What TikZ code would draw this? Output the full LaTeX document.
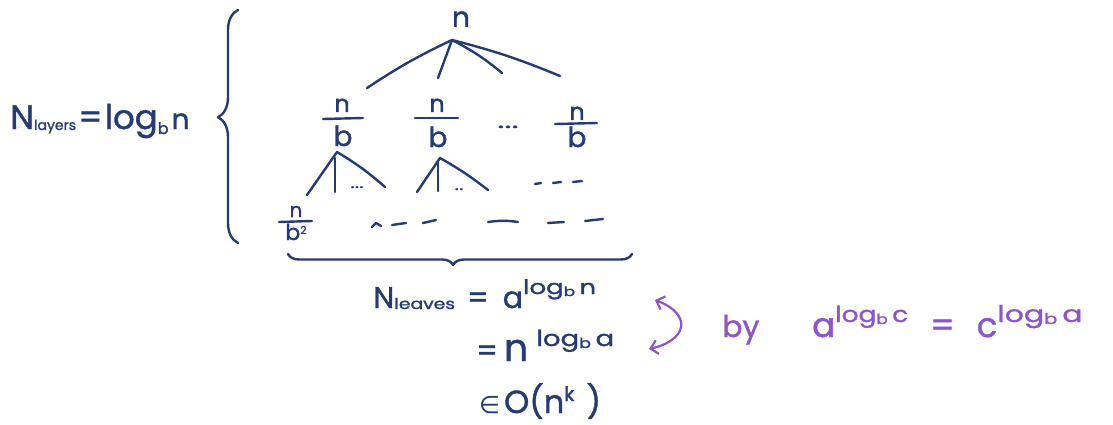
\documentclass[tikz,border=0pt]{standalone}
\usepackage{fontspec}
\usepackage{graphicx}
\setmainfont{Poppins}[UprightFeatures={FakeBold=1.2}]
\newfontfamily\symfont{DejaVu Sans}
\usetikzlibrary{decorations.pathreplacing,arrows.meta}
\definecolor{ink}{RGB}{38,58,118}
\definecolor{violetink}{RGB}{140,85,205}
\newcommand\sz[1]{\fontsize{#1}{#1}\selectfont}
\newcommand\lowered[2]{\raisebox{#1}{#2}}
\newcommand\wide[2]{\scalebox{#1}[1]{#2}}
\begin{document}
\begin{tikzpicture}[x=1pt,y=-1pt,
  pen/.style={draw=ink,line width=2.4pt,line cap=round,line join=round},
  ppen/.style={draw=violetink,line width=2.2pt,line cap=round,line join=round},
  txt/.style={text=ink,inner sep=0pt,anchor=base},
  ptxt/.style={text=violetink,inner sep=0pt,anchor=base west}]
\useasboundingbox (0,0) rectangle (1113,425);
\fill[white] (0,0) rectangle (1113,425);

% left label
\node[txt,anchor=base west] (nlayers) at (10,129)
  {\sz{34}N\lowered{-1pt}{\sz{14}layers}\hspace{2pt}=\hspace{2pt}log\lowered{-5pt}{\sz{16}b}\hspace{3pt}\sz{28}n};

% left brace
\draw[pen,decorate,decoration={brace,amplitude=20pt,aspect=0.54}] (238,243) -- (238,10);

% root
\node[txt] (root) at (461,27) {\sz{28}n};
\coordinate (apex) at (452,40);
\coordinate (e1) at (367,88);
\coordinate (e2) at (438,78);
\coordinate (e3) at (502,73);
\coordinate (e4) at (560,76);
\draw[pen] (apex) to[bend right=4] (e1);
\draw[pen] (apex) -- (e2);
\draw[pen] (apex) to[bend left=6] (e3);
\draw[pen] (apex) to[bend left=4] (e4);

% level 1 fractions
\node[txt] (f1n) at (342,112) {\sz{24}n};
\draw[pen] (323,119) -- (363,118);
\node[txt] (f1d) at (343,146) {\sz{28}b};
\node[txt] (f2n) at (437,112) {\sz{24}n};
\draw[pen] (415,118) -- (458,118);
\node[txt] (f2d) at (438,147) {\sz{28}b};
\node[txt] (dots1) at (508,128) {\wide{1.7}{\sz{20}...}};
\node[txt] (f3n) at (577,120) {\sz{24}n};
\draw[pen] (555,124) -- (597,123);
\node[txt] (f3d) at (577,147) {\sz{28}b};

% level 2 branches
\coordinate (a1) at (337,152);
\coordinate (a1l) at (307,195);
\coordinate (a1v) at (335,158);
\coordinate (a1vb) at (335,192);
\coordinate (a1r) at (385,187);
\draw[pen] (a1) -- (a1l);
\draw[pen] (a1v) -- (a1vb);
\draw[pen] (a1) to[bend left=5] (a1r);
\node[txt] (dots2) at (357,188) {\wide{1.4}{\sz{15}...}};
\coordinate (a2) at (440,158);
\coordinate (a2l) at (417,192);
\coordinate (a2v) at (438,163);
\coordinate (a2vb) at (438,191);
\coordinate (a2r) at (488,190);
\draw[pen] (a2) -- (a2l);
\draw[pen] (a2v) -- (a2vb);
\draw[pen] (a2) to[bend left=4] (a2r);
\node[txt] (dots3) at (459,190) {\wide{1.4}{\sz{15}..}};
\draw[pen] (535,184) -- (541,183);
\draw[pen] (553,183) -- (561,182);
\draw[pen] (573,182) -- (582,181);

% leaves row
\node[txt] (ln) at (296,217) {\sz{20}n};
\draw[pen] (279,222) -- (312,221);
\node[txt] (ld) at (296,240) {\sz{22}b\lowered{6pt}{\sz{11}2}};
\draw[pen] (372,227) -- (376,223) -- (381,226);
\draw[pen] (392,225) -- (406,223);
\draw[pen] (423,223) -- (436,220);
\draw[pen] (488,222) to[bend left=8] (518,222);
\draw[pen] (548,223) -- (564,222);
\draw[pen] (585,221) -- (603,219);

% bottom brace
\draw[pen,decorate,decoration={brace,mirror,amplitude=11pt,aspect=0.48}] (288,254) -- (632,254);

% formulas
\node[txt,anchor=base west] (leaves) at (373,308)
  {\sz{30}N\lowered{-1pt}{\wide{1.25}{\sz{15}leaves}}\hspace{12pt}=\hspace{14pt}a\lowered{14pt}{\wide{1.3}{\sz{20}log\lowered{-2pt}{\sz{13}b}\,n}}};
\node[txt,anchor=base west] (eq2) at (476,361)
  {\sz{30}=\hspace{6pt}\sz{38}n\hspace{8pt}\lowered{15pt}{\wide{1.25}{\sz{22}log\lowered{-2pt}{\sz{14}b}\,a}}};
\node[txt,anchor=base west] (eq3) at (479,413)
  {{\symfont\sz{24}∈}\hspace{4pt}{\sz{32}O(n\lowered{12pt}{\sz{20}k}\hspace{12pt})}};

% purple part
\coordinate (arrtop) at (655,300);
\coordinate (arrbot) at (649,349);
\draw[ppen,{Straight Barb[length=7pt,width=14pt]}-{Straight Barb[length=7pt,width=14pt]}]
  (arrtop) .. controls (692,314) and (688,340) .. (arrbot);
\node[ptxt] (by) at (722,337) {\sz{30}by};
\node[ptxt] (identity) at (812,337)
  {\sz{34}a\lowered{15pt}{\wide{1.2}{\sz{22}log\lowered{-2pt}{\sz{14}b}\,c}}\hspace{22pt}=\hspace{22pt}c\lowered{15pt}{\wide{1.3}{\sz{23}log\lowered{-2pt}{\sz{15}b}\,a}}};
\end{tikzpicture}
\end{document}
